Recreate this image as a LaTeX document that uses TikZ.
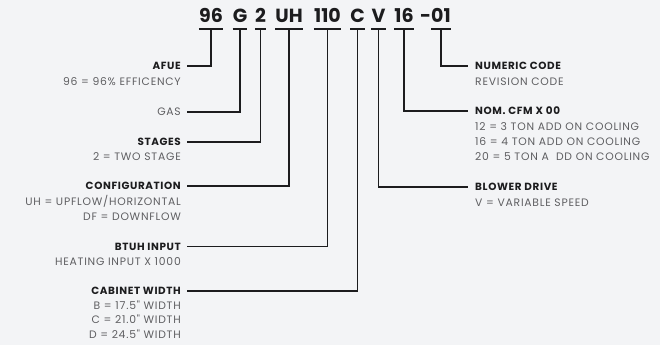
\documentclass[tikz,border=0pt]{standalone}
\usepackage{fontspec}
\setmainfont{Poppins}
\newfontfamily\headfont[LetterSpace=6]{Poppins}
\newfontfamily\descfont[LetterSpace=7]{Poppins}
\usepackage{tikz}
\usetikzlibrary{positioning}
\definecolor{bgcol}{RGB}{243,244,246}
\definecolor{inkcol}{RGB}{28,28,30}
\definecolor{graycol}{RGB}{95,95,98}

\begin{document}
\begin{tikzpicture}[x=1pt, y=-1pt,
    code/.style = {anchor=base, inner xsep=0pt, inner ysep=6pt, text depth=0pt, font=\fontsize{19}{20}\selectfont\bfseries, text=inkcol},
    lhead/.style = {anchor=east, inner xsep=6pt, inner ysep=0pt, text height=7.4pt, text depth=0pt, font=\headfont\fontsize{10.4}{10}\selectfont\bfseries, text=inkcol},
    rhead/.style = {anchor=west, inner xsep=7pt, inner ysep=0pt, text height=7.4pt, text depth=0pt, font=\headfont\fontsize{10.4}{10}\selectfont\bfseries, text=inkcol},
    ldesc/.style = {anchor=base east, inner sep=0pt, align=right, font=\descfont\fontsize{10.8}{14.8}\selectfont, text=graycol},
    rdesc/.style = {anchor=base west, inner sep=0pt, align=left, font=\descfont\fontsize{10.8}{14.8}\selectfont, text=graycol},
    wire/.style = {draw=inkcol, line width=1.7pt}]
        \useasboundingbox[fill=bgcol] (0,0) rectangle (660,345);

        % model number
        \node[code] (afuecode) at (211,23) {96};
        \node[code] (gascode) at (240,23) {G};
        \node[code] (stagecode) at (260.5,23) {2};
        \node[code] (confcode) at (289,23) {UH};
        \node[code] (btuhcode) at (327.5,23) {110};
        \node[code] (cabcode) at (357.5,23) {C};
        \node[code] (blowcode) at (378.5,23) {V};
        \node[code] (cfmcode) at (404,23) {16};
        \node[code] (revcode) at (441,23) {\llap{-}01};

        % left side (multi-line texts sit on their last line)
        \node[lhead] (afue) at (187,66) {AFUE};
        \node[ldesc] (afuedesc) at (181,85.5) {96 = 96\% EFFICENCY};
        \node[lhead, font=\descfont\fontsize{10.8}{10}\selectfont, text=graycol] (gas) at (187,112) {GAS};
        \node[lhead] (stages) at (187,142) {STAGES};
        \node[ldesc] (stagesdesc) at (181,160.5) {2 = TWO STAGE};
        \node[lhead] (config) at (187,186) {CONFIGURATION};
        \node[ldesc] (configdesc) at (181,220.5) {UH = UPFLOW/HORIZONTAL\\DF = DOWNFLOW};
        \node[lhead] (btuh) at (187,246.5) {BTUH INPUT};
        \node[ldesc] (btuhdesc) at (181,265.5) {HEATING INPUT X 1000};
        \node[lhead] (cabinet) at (187,291) {CABINET WIDTH};
        \node[ldesc] (cabinetdesc) at (181,338.7) {B = 17.5" WIDTH\\C = 21.0" WIDTH\\D = 24.5" WIDTH};

        % right side
        \node[rhead] (numeric) at (468,66) {NUMERIC CODE};
        \node[rdesc] (numericdesc) at (475,85.5) {REVISION CODE};
        \node[rhead] (nomcfm) at (468,111) {NOM. CFM X 00};
        \node[rdesc] (nomcfmdesc) at (475,160.5) {12 = 3 TON ADD ON COOLING\\16 = 4 TON ADD ON COOLING\\20 = 5 TON A\ \ DD ON COOLING};
        \node[rhead] (blower) at (468,187) {BLOWER DRIVE};
        \node[rdesc] (blowerdesc) at (475,206.5) {V = VARIABLE SPEED};

        % underlines
        \foreach \c in {afuecode,gascode,stagecode,confcode,btuhcode,cabcode,blowcode,cfmcode,revcode}
          \draw[wire] (\c.south west) -- (\c.south east);

        % connectors
        \draw[wire] (afuecode.south) |- (afue.east);
        \draw[wire] (gascode.south) |- (gas.east);
        \draw[wire] (stagecode.south) |- (stages.east);
        \draw[wire] (confcode.south) |- (config.east);
        \draw[wire] (btuhcode.south) |- (btuh.east);
        \draw[wire] (cabcode.south) |- (cabinet.east);
        \draw[wire] (blowcode.south) |- (blower.west);
        \draw[wire] (cfmcode.south) |- (nomcfm.west);
        \draw[wire] (revcode.south) |- (numeric.west);
\end{tikzpicture}
\end{document}
